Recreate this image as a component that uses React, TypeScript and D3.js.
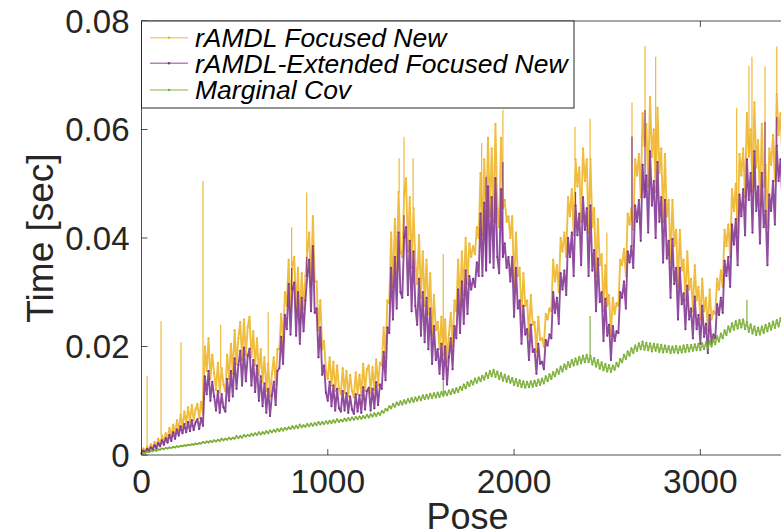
import React from "react";
import * as d3 from "d3";

const STEP = 10; // poses between samples
const xTicks = [0, 1000, 2000, 3000];
const yTicks = [0, 0.02, 0.04, 0.06, 0.08];
const yTickLabels = ["0", "0.02", "0.04", "0.06", "0.08"];
const seriesNames = ["rAMDL Focused New", "rAMDL-Extended Focused New", "Marginal Cov"];
const seriesColors = ["#EDB120", "#7E2F8E", "#77AC30"];

const focused = [
  0.0004, 0.0012, 0.0007, 0.0015, 0.0010, 0.0020, 0.0013, 0.0024, 0.0016, 0.0030, 0.0020, 0.0036, 0.0024, 0.0040, 0.0030, 0.0050, 0.0034, 0.0056, 0.0040, 0.0064,
  0.0046, 0.0074, 0.0052, 0.0080, 0.0058, 0.0088, 0.0060, 0.0092, 0.0064, 0.0084, 0.0094, 0.0068, 0.0098, 0.0076, 0.0200, 0.0155, 0.0215, 0.0140, 0.0185, 0.0150,
  0.0120, 0.0170, 0.0115, 0.0160, 0.0130, 0.0118, 0.0185, 0.0140, 0.0205, 0.0150, 0.0230, 0.0168, 0.0215, 0.0245, 0.0175, 0.0250, 0.0185, 0.0235, 0.0255, 0.0180,
  0.0228, 0.0165, 0.0215, 0.0148, 0.0195, 0.0135, 0.0180, 0.0118, 0.0168, 0.0108, 0.0150, 0.0180, 0.0130, 0.0195, 0.0195, 0.0260, 0.0205, 0.0300, 0.0275, 0.0360,
  0.0265, 0.0350, 0.0365, 0.0265, 0.0345, 0.0245, 0.0335, 0.0270, 0.0330, 0.0375, 0.0410, 0.0310, 0.0440, 0.0320, 0.0320, 0.0230, 0.0285, 0.0195, 0.0210, 0.0155,
  0.0140, 0.0180, 0.0128, 0.0172, 0.0118, 0.0165, 0.0122, 0.0112, 0.0160, 0.0115, 0.0155, 0.0108, 0.0148, 0.0118, 0.0106, 0.0152, 0.0112, 0.0148, 0.0110, 0.0168,
  0.0118, 0.0158, 0.0165, 0.0114, 0.0162, 0.0120, 0.0176, 0.0128, 0.0170, 0.0165, 0.0235, 0.0180, 0.0285, 0.0280, 0.0410, 0.0310, 0.0435, 0.0335, 0.0485, 0.0375,
  0.0365, 0.0480, 0.0510, 0.0375, 0.0475, 0.0345, 0.0455, 0.0355, 0.0315, 0.0405, 0.0290, 0.0375, 0.0275, 0.0360, 0.0260, 0.0335, 0.0220, 0.0295, 0.0230, 0.0245,
  0.0195, 0.0255, 0.0185, 0.0250, 0.0172, 0.0222, 0.0262, 0.0200, 0.0285, 0.0265, 0.0360, 0.0275, 0.0375, 0.0295, 0.0400, 0.0315, 0.0390, 0.0365, 0.0385, 0.0370,
  0.0420, 0.0400, 0.0520, 0.0405, 0.0545, 0.0420, 0.0585, 0.0440, 0.0565, 0.0430, 0.0610, 0.0455, 0.0420, 0.0585, 0.0455, 0.0470, 0.0430, 0.0440, 0.0400, 0.0440,
  0.0310, 0.0410, 0.0330, 0.0345, 0.0255, 0.0335, 0.0275, 0.0285, 0.0220, 0.0295, 0.0240, 0.0245, 0.0190, 0.0255, 0.0212, 0.0215, 0.0200, 0.0260, 0.0250, 0.0270,
  0.0265, 0.0360, 0.0320, 0.0350, 0.0300, 0.0400, 0.0375, 0.0410, 0.0365, 0.0475, 0.0440, 0.0490, 0.0405, 0.0545, 0.0495, 0.0530, 0.0430, 0.0565, 0.0505, 0.0545,
  0.0410, 0.0545, 0.0420, 0.0455, 0.0330, 0.0435, 0.0350, 0.0370, 0.0265, 0.0350, 0.0275, 0.0295, 0.0220, 0.0290, 0.0260, 0.0280, 0.0275, 0.0360, 0.0350, 0.0380,
  0.0330, 0.0445, 0.0425, 0.0455, 0.0415, 0.0545, 0.0515, 0.0555, 0.0475, 0.0630, 0.0570, 0.0610, 0.0495, 0.0660, 0.0550, 0.0600, 0.0485, 0.0640, 0.0520, 0.0565,
  0.0430, 0.0555, 0.0440, 0.0470, 0.0355, 0.0470, 0.0385, 0.0415, 0.0310, 0.0415, 0.0340, 0.0360, 0.0285, 0.0375, 0.0305, 0.0325, 0.0265, 0.0350, 0.0285, 0.0310,
  0.0250, 0.0325, 0.0265, 0.0290, 0.0230, 0.0305, 0.0250, 0.0265, 0.0260, 0.0325, 0.0305, 0.0340, 0.0310, 0.0415, 0.0385, 0.0425, 0.0365, 0.0490, 0.0450, 0.0500,
  0.0410, 0.0555, 0.0515, 0.0565, 0.0475, 0.0630, 0.0550, 0.0600, 0.0485, 0.0650, 0.0530, 0.0580, 0.0460, 0.0610, 0.0495, 0.0535, 0.0420, 0.0565, 0.0535, 0.0590,
  0.0505, 0.0665, 0.0590, 0.0630, 0.0550,
];

const extended = [
  0.0003, 0.0008, 0.0005, 0.0011, 0.0008, 0.0014, 0.0010, 0.0018, 0.0012, 0.0022, 0.0016, 0.0027, 0.0019, 0.0031, 0.0023, 0.0037, 0.0026, 0.0042, 0.0030, 0.0047,
  0.0036, 0.0053, 0.0040, 0.0057, 0.0042, 0.0061, 0.0044, 0.0064, 0.0046, 0.0060, 0.0066, 0.0048, 0.0068, 0.0054, 0.0145, 0.0112, 0.0155, 0.0100, 0.0135, 0.0108,
  0.0082, 0.0118, 0.0078, 0.0112, 0.0088, 0.0080, 0.0140, 0.0100, 0.0155, 0.0108, 0.0178, 0.0122, 0.0166, 0.0192, 0.0128, 0.0198, 0.0136, 0.0182, 0.0196, 0.0128,
  0.0175, 0.0116, 0.0165, 0.0100, 0.0145, 0.0090, 0.0132, 0.0078, 0.0122, 0.0072, 0.0110, 0.0135, 0.0092, 0.0155, 0.0160, 0.0218, 0.0168, 0.0258, 0.0232, 0.0315,
  0.0222, 0.0305, 0.0318, 0.0220, 0.0300, 0.0205, 0.0290, 0.0228, 0.0285, 0.0330, 0.0360, 0.0265, 0.0385, 0.0262, 0.0270, 0.0180, 0.0235, 0.0148, 0.0165, 0.0115,
  0.0100, 0.0135, 0.0090, 0.0128, 0.0082, 0.0122, 0.0086, 0.0080, 0.0118, 0.0082, 0.0114, 0.0078, 0.0108, 0.0084, 0.0076, 0.0112, 0.0080, 0.0110, 0.0078, 0.0125,
  0.0084, 0.0118, 0.0124, 0.0082, 0.0122, 0.0086, 0.0134, 0.0092, 0.0130, 0.0122, 0.0190, 0.0138, 0.0235, 0.0225, 0.0345, 0.0250, 0.0365, 0.0270, 0.0410, 0.0300,
  0.0290, 0.0400, 0.0420, 0.0295, 0.0395, 0.0265, 0.0375, 0.0275, 0.0240, 0.0325, 0.0220, 0.0300, 0.0208, 0.0290, 0.0195, 0.0270, 0.0168, 0.0238, 0.0175, 0.0195,
  0.0150, 0.0205, 0.0140, 0.0200, 0.0130, 0.0180, 0.0215, 0.0158, 0.0238, 0.0215, 0.0305, 0.0225, 0.0320, 0.0242, 0.0340, 0.0260, 0.0330, 0.0305, 0.0325, 0.0310,
  0.0355, 0.0330, 0.0445, 0.0330, 0.0465, 0.0340, 0.0495, 0.0355, 0.0475, 0.0345, 0.0510, 0.0365, 0.0335, 0.0490, 0.0365, 0.0390, 0.0345, 0.0365, 0.0320, 0.0365,
  0.0255, 0.0345, 0.0270, 0.0285, 0.0205, 0.0275, 0.0222, 0.0232, 0.0175, 0.0240, 0.0190, 0.0195, 0.0150, 0.0205, 0.0168, 0.0172, 0.0158, 0.0212, 0.0202, 0.0222,
  0.0215, 0.0300, 0.0262, 0.0290, 0.0242, 0.0335, 0.0305, 0.0340, 0.0295, 0.0400, 0.0365, 0.0410, 0.0330, 0.0460, 0.0405, 0.0445, 0.0350, 0.0475, 0.0415, 0.0455,
  0.0330, 0.0460, 0.0340, 0.0378, 0.0265, 0.0362, 0.0282, 0.0300, 0.0210, 0.0288, 0.0220, 0.0240, 0.0175, 0.0238, 0.0210, 0.0228, 0.0225, 0.0300, 0.0290, 0.0320,
  0.0270, 0.0375, 0.0355, 0.0385, 0.0345, 0.0460, 0.0430, 0.0470, 0.0395, 0.0535, 0.0475, 0.0515, 0.0410, 0.0560, 0.0460, 0.0505, 0.0400, 0.0540, 0.0430, 0.0475,
  0.0355, 0.0470, 0.0362, 0.0395, 0.0290, 0.0398, 0.0315, 0.0345, 0.0250, 0.0345, 0.0278, 0.0298, 0.0232, 0.0312, 0.0250, 0.0270, 0.0215, 0.0292, 0.0232, 0.0258,
  0.0205, 0.0275, 0.0218, 0.0242, 0.0188, 0.0258, 0.0205, 0.0222, 0.0215, 0.0278, 0.0258, 0.0290, 0.0262, 0.0358, 0.0330, 0.0365, 0.0310, 0.0425, 0.0388, 0.0435,
  0.0350, 0.0480, 0.0440, 0.0490, 0.0405, 0.0545, 0.0470, 0.0520, 0.0410, 0.0560, 0.0450, 0.0495, 0.0390, 0.0520, 0.0420, 0.0450, 0.0350, 0.0480, 0.0450, 0.0505,
  0.0425, 0.0570, 0.0505, 0.0545, 0.0470,
];

const marginal = [
  0.0002, 0.0004, 0.0004, 0.0006, 0.0005, 0.0007, 0.0007, 0.0009, 0.0008, 0.0010, 0.0010, 0.0012, 0.0011, 0.0013, 0.0012, 0.0014, 0.0013, 0.0015, 0.0014, 0.0016,
  0.0015, 0.0017, 0.0016, 0.0018, 0.0017, 0.0019, 0.0018, 0.0020, 0.0019, 0.0021, 0.0020, 0.0022, 0.0021, 0.0024, 0.0022, 0.0025, 0.0023, 0.0026, 0.0024, 0.0027,
  0.0025, 0.0028, 0.0026, 0.0030, 0.0027, 0.0030, 0.0028, 0.0032, 0.0029, 0.0032, 0.0030, 0.0035, 0.0031, 0.0035, 0.0032, 0.0037, 0.0034, 0.0037, 0.0035, 0.0039,
  0.0036, 0.0040, 0.0037, 0.0042, 0.0038, 0.0042, 0.0039, 0.0044, 0.0040, 0.0045, 0.0042, 0.0046, 0.0043, 0.0048, 0.0044, 0.0049, 0.0045, 0.0050, 0.0047, 0.0051,
  0.0048, 0.0053, 0.0049, 0.0054, 0.0050, 0.0056, 0.0051, 0.0055, 0.0052, 0.0057, 0.0053, 0.0058, 0.0054, 0.0059, 0.0055, 0.0061, 0.0056, 0.0061, 0.0057, 0.0062,
  0.0058, 0.0063, 0.0059, 0.0064, 0.0060, 0.0066, 0.0061, 0.0065, 0.0062, 0.0067, 0.0063, 0.0068, 0.0064, 0.0069, 0.0065, 0.0070, 0.0066, 0.0071, 0.0067, 0.0072,
  0.0068, 0.0074, 0.0069, 0.0075, 0.0071, 0.0077, 0.0072, 0.0078, 0.0074, 0.0081, 0.0078, 0.0085, 0.0082, 0.0090, 0.0086, 0.0094, 0.0089, 0.0097, 0.0092, 0.0099,
  0.0093, 0.0101, 0.0095, 0.0103, 0.0097, 0.0105, 0.0098, 0.0106, 0.0100, 0.0108, 0.0101, 0.0110, 0.0103, 0.0111, 0.0104, 0.0113, 0.0105, 0.0114, 0.0106, 0.0115,
  0.0107, 0.0116, 0.0109, 0.0117, 0.0110, 0.0119, 0.0112, 0.0121, 0.0114, 0.0123, 0.0116, 0.0126, 0.0120, 0.0130, 0.0123, 0.0134, 0.0127, 0.0137, 0.0130, 0.0141,
  0.0133, 0.0143, 0.0136, 0.0146, 0.0139, 0.0151, 0.0142, 0.0155, 0.0145, 0.0157, 0.0144, 0.0154, 0.0140, 0.0151, 0.0137, 0.0148, 0.0135, 0.0145, 0.0133, 0.0142,
  0.0129, 0.0140, 0.0127, 0.0138, 0.0125, 0.0136, 0.0124, 0.0135, 0.0125, 0.0136, 0.0126, 0.0137, 0.0127, 0.0139, 0.0129, 0.0141, 0.0132, 0.0145, 0.0136, 0.0149,
  0.0140, 0.0153, 0.0145, 0.0158, 0.0150, 0.0163, 0.0154, 0.0167, 0.0158, 0.0171, 0.0162, 0.0175, 0.0165, 0.0178, 0.0167, 0.0181, 0.0169, 0.0183, 0.0171, 0.0185,
  0.0171, 0.0183, 0.0167, 0.0179, 0.0163, 0.0175, 0.0159, 0.0171, 0.0156, 0.0168, 0.0154, 0.0166, 0.0153, 0.0165, 0.0157, 0.0170, 0.0163, 0.0177, 0.0171, 0.0185,
  0.0177, 0.0191, 0.0183, 0.0197, 0.0188, 0.0202, 0.0192, 0.0206, 0.0195, 0.0209, 0.0194, 0.0207, 0.0193, 0.0206, 0.0191, 0.0205, 0.0192, 0.0204, 0.0190, 0.0203,
  0.0189, 0.0202, 0.0190, 0.0201, 0.0188, 0.0200, 0.0189, 0.0201, 0.0188, 0.0200, 0.0189, 0.0202, 0.0190, 0.0203, 0.0191, 0.0203, 0.0192, 0.0204, 0.0193, 0.0205,
  0.0193, 0.0206, 0.0195, 0.0208, 0.0197, 0.0210, 0.0200, 0.0214, 0.0204, 0.0219, 0.0209, 0.0224, 0.0215, 0.0230, 0.0221, 0.0237, 0.0227, 0.0243, 0.0231, 0.0247,
  0.0233, 0.0249, 0.0235, 0.0250, 0.0232, 0.0245, 0.0227, 0.0241, 0.0224, 0.0237, 0.0221, 0.0235, 0.0222, 0.0237, 0.0225, 0.0240, 0.0228, 0.0243, 0.0231, 0.0246,
  0.0234, 0.0249, 0.0237, 0.0252, 0.0241,
];

// isolated spikes [pose, value]
const focusedSpikes = [
  [30, 0.0146], [105, 0.0247], [212, 0.0208], [330, 0.0505], [425, 0.024],
  [680, 0.0263], [806, 0.042], [887, 0.0484], [1383, 0.0547], [1409, 0.0586],
  [1458, 0.0547], [1620, 0.037], [1826, 0.0575], [1940, 0.0636], [2327, 0.0605],
  [2408, 0.062], [2498, 0.041], [2633, 0.065], [2703, 0.0754], [2760, 0.0734],
  [3195, 0.064], [3261, 0.0717], [3277, 0.0734], [3347, 0.0716], [3410, 0.0753],
];
const extendedSpikes = [
  [806, 0.0345], [887, 0.0365], [1409, 0.0442], [1850, 0.0513], [1940, 0.054],
  [2330, 0.0485], [2633, 0.0587], [2703, 0.0636], [3347, 0.0614], [3410, 0.0623],
];
const marginalSpikes = [[1620, 0.0138], [2408, 0.0256], [3250, 0.0286]];

const W = 781;
const H = 532;
const FONT = "'Liberation Sans', Arial, Helvetica, sans-serif";
const AXC = "#262626";
const strokeWidths = [1.9, 1.9, 1.7];

export default function App() {
  const x = d3.scaleLinear().domain([0, 3500]).range([141.5, 793.5]);
  const y = d3.scaleLinear().domain([0, 0.08]).range([455, 21]);
  const series = [focused, extended, marginal];
  const spikes = [focusedSpikes, extendedSpikes, marginalSpikes];
  const line = d3
    .line<number>()
    .x((_, i) => x(i * STEP))
    .y((v) => y(v));

  const legendRows = [37.7, 63.3, 90];

  return (
    <svg
      width={W}
      height={H}
      style={{ position: "absolute", left: 0, top: 0, background: "#fff" }}
      fontFamily={FONT}
    >
      {/* title (mostly cut off) */}
      <text x={497} y={-1} textAnchor="end" fontSize={34} fill="#000">
        Per Pose
      </text>

      {/* data */}
      {series.map((s, k) => (
        <g key={k}>
          <path
            d={line(s) || ""}
            fill="none"
            stroke={seriesColors[k]}
            strokeWidth={strokeWidths[k]}
            strokeOpacity={0.85}
            strokeLinejoin="round"
          />
          {spikes[k].map(([p, v], j) => (
            <line
              key={j}
              x1={x(p)}
              x2={x(p)}
              y1={y(s[Math.round(p / STEP)])}
              y2={y(v)}
              stroke={seriesColors[k]}
              strokeWidth={1.2}
              strokeOpacity={0.9}
            />
          ))}
          {s.map((v, i) => (
            <circle key={i} cx={x(i * STEP)} cy={y(v)} r={1} fill={seriesColors[k]} />
          ))}
        </g>
      ))}

      {/* axes box */}
      <line x1={x(0)} x2={x(0)} y1={y(0)} y2={y(0.08)} stroke={AXC} strokeWidth={1} opacity={0.8} />
      <line x1={x(0)} x2={W} y1={y(0)} y2={y(0)} stroke={AXC} strokeWidth={1} opacity={0.8} />
      <line x1={x(0)} x2={W} y1={y(0.08)} y2={y(0.08)} stroke={AXC} strokeWidth={1} opacity={0.8} />

      {xTicks.map((t) => (
        <g key={t}>
          <line x1={x(t)} x2={x(t)} y1={y(0)} y2={y(0) - 6} stroke={AXC} opacity={0.8} />
          <line x1={x(t)} x2={x(t)} y1={y(0.08)} y2={y(0.08) + 6} stroke={AXC} opacity={0.8} />
          <text x={x(t)} y={493} textAnchor="middle" fontSize={33.5} fill={AXC}>
            {t}
          </text>
        </g>
      ))}
      {yTicks.map((t, i) => (
        <g key={t}>
          <line x1={x(0)} x2={x(0) + 6} y1={y(t)} y2={y(t)} stroke={AXC} opacity={0.8} />
          <text x={129.5} y={y(t) + 11.8} textAnchor="end" fontSize={33} fill={AXC}>
            {yTickLabels[i]}
          </text>
        </g>
      ))}

      <text x={(141.5 + 793.5) / 2} y={529} textAnchor="middle" fontSize={36} fill={AXC}>
        Pose
      </text>
      <text
        transform={`translate(53,238) rotate(-90)`}
        textAnchor="middle"
        fontSize={37}
        fill={AXC}
      >
        Time [sec]
      </text>

      {/* legend */}
      <rect x={141.5} y={21} width={432.5} height={87} fill="#fff" stroke={AXC} strokeWidth={1} />
      {seriesNames.map((n, k) => (
        <g key={n}>
          <line
            x1={150}
            x2={188}
            y1={legendRows[k]}
            y2={legendRows[k]}
            stroke={seriesColors[k]}
            strokeWidth={1.4}
            strokeOpacity={0.6}
          />
          <circle cx={169} cy={legendRows[k]} r={1.2} fill={seriesColors[k]} />
          <text
            x={195}
            y={legendRows[k] + 9.3}
            fontSize={26.5}
            fontStyle="italic"
            fill="#000"
          >
            {n}
          </text>
        </g>
      ))}
    </svg>
  );
}
